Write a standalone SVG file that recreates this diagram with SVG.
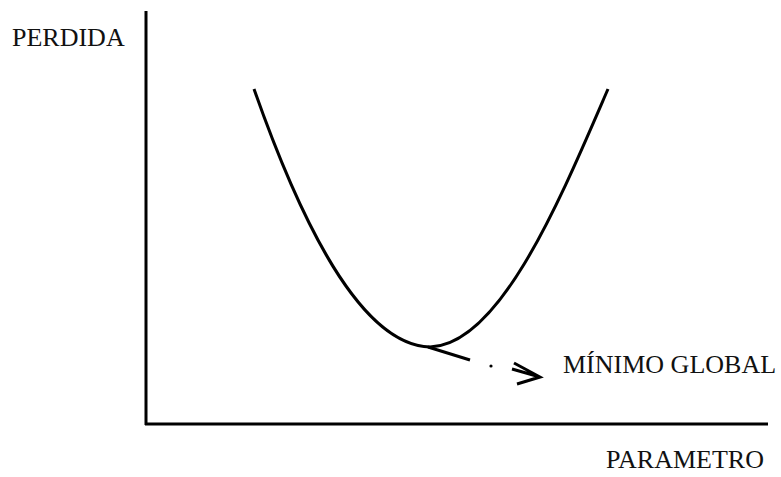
<svg xmlns="http://www.w3.org/2000/svg" width="781" height="477" viewBox="0 0 781 477">
<style>
.ln{fill:none;stroke:#000;stroke-width:3;stroke-linecap:butt}
.t{font-family:"Liberation Serif","Times New Roman",serif;font-size:26px;fill:#111}
</style>
<rect width="781" height="477" fill="#fff"/>
<g id="axes">
<line class="ln" x1="146" y1="11" x2="146" y2="425"/>
<line class="ln" x1="145" y1="424" x2="768" y2="424"/>
</g>
<g id="curve">
<path class="ln" d="M254,89 C300,220 360,345 430,347 C500,345 560,200 608,89"/>
</g>
<g id="connectors">
<line class="ln" x1="428" y1="347" x2="470" y2="360"/>
<circle cx="491" cy="366" r="1.6" fill="#000"/>
<path class="ln" d="M512,369 L540,377 M514,363 L540,377 L517,384"/>
</g>
<g id="labels">
<text class="t" x="12" y="46">PERDIDA</text>
<text class="t" x="563" y="373">MÍNIMO GLOBAL</text>
<text class="t" x="606" y="468">PARAMETRO</text>
</g>
</svg>
